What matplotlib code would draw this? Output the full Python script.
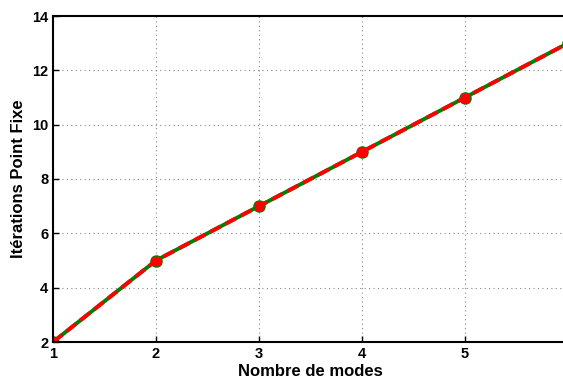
import matplotlib
matplotlib.use("Agg")
import matplotlib.pyplot as plt

modes = [1, 2, 3, 4, 5, 6]
iterations = [2, 5, 7, 9, 11, 13]
xticks = [1, 2, 3, 4, 5]
yticks = [2, 4, 6, 8, 10, 12, 14]

plt.rcParams['font.family'] = ['Liberation Sans', 'DejaVu Sans']
plt.rcParams['font.weight'] = 'bold'

fig = plt.figure(figsize=(5.63, 3.79), dpi=100)
W, H = 563, 379
left, right, top, bottom = 53, 568, 16, 342
ax = fig.add_axes([left / W, 1 - bottom / H, (right - left) / W, (bottom - top) / H])

ax.plot(modes, iterations, color='#008000', lw=2.8, marker='o', ms=8, mfc='#008000', mec='#008000')
ax.plot(modes, iterations, color='#ff0000', lw=2.8, ls=(0, (3, 1.5)), marker='s', ms=6, mfc='#ff0000', mec='#ff0000')

ax.set_xlim(1, 6)
ax.set_ylim(2, 14)
ax.set_xticks(xticks)
ax.set_yticks(yticks)
ax.grid(True, ls=(0, (1, 3)), color='#888888', lw=0.8)
ax.tick_params(direction='in', length=4, width=1, labelsize=10.5)
for lab in ax.get_xticklabels() + ax.get_yticklabels():
    lab.set_fontweight('bold')
for s in ax.spines.values():
    s.set_linewidth(1.5)

ax.set_xlabel('Nombre de modes', fontsize=12, fontweight='bold', labelpad=2)
ax.set_ylabel('Itérations Point Fixe', fontsize=12, fontweight='bold', labelpad=4)

fig.savefig('out.png', dpi=100)
